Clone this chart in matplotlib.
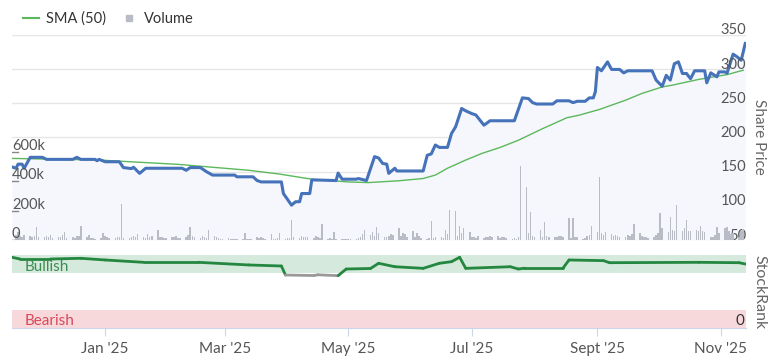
import matplotlib
matplotlib.use("Agg")
import matplotlib.pyplot as plt
import matplotlib.transforms as mtransforms
from matplotlib.lines import Line2D
import numpy as np
import pandas as pd

plt.rcParams['font.family'] = ['Lato', 'DejaVu Sans']

# share price
price_dates = [
    '2024-11-16', '2024-11-18', '2024-11-19', '2024-11-21', '2024-11-22', '2024-11-25',
    '2024-12-01', '2024-12-03', '2024-12-16', '2024-12-18', '2024-12-20', '2024-12-27',
    '2024-12-28', '2024-12-29', '2025-01-01', '2025-01-08', '2025-01-10', '2025-01-14',
    '2025-01-15', '2025-01-18', '2025-01-21', '2025-02-08', '2025-02-10', '2025-02-12',
    '2025-02-17', '2025-02-20', '2025-02-23', '2025-03-06', '2025-03-07', '2025-03-15',
    '2025-03-17', '2025-03-19', '2025-03-29', '2025-03-30', '2025-04-01', '2025-04-03',
    '2025-04-05', '2025-04-07', '2025-04-08', '2025-04-12', '2025-04-13', '2025-04-25',
    '2025-04-26', '2025-04-28', '2025-05-05', '2025-05-06', '2025-05-10', '2025-05-14',
    '2025-05-16', '2025-05-18', '2025-05-20', '2025-05-21', '2025-05-24', '2025-05-25',
    '2025-06-07', '2025-06-09', '2025-06-11', '2025-06-13', '2025-06-15', '2025-06-19',
    '2025-06-21', '2025-06-23', '2025-06-26', '2025-06-28', '2025-07-01', '2025-07-03',
    '2025-07-05', '2025-07-07', '2025-07-10', '2025-07-22', '2025-07-26', '2025-07-29',
    '2025-07-31', '2025-08-02', '2025-08-10', '2025-08-12', '2025-08-18', '2025-08-20',
    '2025-08-22', '2025-08-26', '2025-08-28', '2025-08-30', '2025-08-31', '2025-09-01',
    '2025-09-03', '2025-09-06', '2025-09-08', '2025-09-12', '2025-09-14', '2025-09-16',
    '2025-09-28', '2025-09-30', '2025-10-03', '2025-10-05', '2025-10-07', '2025-10-09',
    '2025-10-11', '2025-10-13', '2025-10-15', '2025-10-17', '2025-10-19', '2025-10-24',
    '2025-10-25', '2025-10-27', '2025-10-30', '2025-10-31', '2025-11-03', '2025-11-04',
    '2025-11-07', '2025-11-09', '2025-11-11', '2025-11-13',
]
price_vals = [
    157, 155, 161, 161, 155, 171,
    171, 168, 168, 171, 168, 168,
    166, 168, 164.5, 164.5, 156, 154.5,
    156.5, 147.5, 155, 155, 152, 156,
    156, 150, 145, 145, 142.5, 142.5,
    137, 135, 135, 118, 109.5, 101,
    106, 106, 118, 118, 138, 137,
    148, 139, 139, 140, 137, 172,
    170, 162, 161, 147.5, 155, 151,
    151, 174, 176, 189, 185.5, 185.5,
    206, 215.6, 242.5, 239, 235, 233,
    225.5, 218, 224.5, 224.5, 258, 257,
    251, 249, 249, 253.7, 253.7, 251,
    253, 253, 258, 258, 267, 302.5,
    297.6, 310.7, 299.6, 299.6, 294.6, 297.6,
    297.6, 284, 275, 291, 284, 308,
    310.7, 293.7, 293.7, 286, 297.6, 297.6,
    280, 294.6, 288.8, 296, 296, 294,
    322, 318, 313, 337.6,
]

# 50 day simple moving average
sma_dates = [
    '2024-11-16', '2024-12-29', '2025-02-06', '2025-03-13', '2025-03-28', '2025-04-13',
    '2025-05-01', '2025-05-11', '2025-05-26', '2025-06-07', '2025-06-13', '2025-06-19',
    '2025-06-28', '2025-07-06', '2025-07-15', '2025-07-24', '2025-08-05', '2025-08-17',
    '2025-08-23', '2025-09-02', '2025-09-15', '2025-09-23', '2025-10-03', '2025-10-08',
    '2025-10-21', '2025-11-04', '2025-11-12',
]
sma_vals = [
    169.4, 167, 160.7, 152, 146.5, 139,
    135, 134, 136.7, 140, 145, 155,
    167, 176.7, 185.5, 196, 213, 229,
    232.7, 241, 254.7, 264.5, 274, 276.6,
    285, 292, 298.5,
]

# daily volume (thousands), one per business day from vol_start
vol_start = '2024-11-18'
volumes_k = [
    35, 53, 29, 23, 35, 26, 21, 29, 87, 23,
    18, 29, 21, 35, 14, 23, 18, 33, 53, 14,
    21, 12, 29, 26, 96, 23, 35, 16, 12, 9,
    14, 50, 29, 18, 12, 14, 21, 23, 246, 12,
    14, 18, 29, 23, 41, 21, 14, 44, 23, 29,
    68, 18, 23, 12, 14, 21, 23, 29, 16, 12,
    18, 35, 87, 29, 21, 12, 26, 18, 14, 68,
    29, 18, 12, 9, 6, 12, 7, 6, 5, 9,
    6, 46, 5, 4, 7, 18, 14, 23, 12, 9,
    41, 7, 9, 12, 46, 9, 12, 14, 137, 23,
    14, 29, 18, 21, 23, 12, 26, 18, 14, 112,
    9, 12, 6, 53, 7, 5, 4, 6, 9, 5,
    7, 12, 23, 41, 68, 35, 53, 29, 87, 47,
    23, 18, 29, 39, 35, 80, 29, 47, 41, 23,
    62, 18, 46, 29, 12, 9, 14, 130, 12, 18,
    23, 14, 68, 41, 205, 199, 29, 96, 47, 80,
    53, 23, 18, 12, 29, 14, 23, 18, 26, 21,
    29, 14, 23, 18, 12, 9, 14, 6, 23, 507,
    365, 47, 193, 29, 21, 70, 23, 125, 29, 21,
    23, 18, 29, 26, 18, 153, 12, 153, 23, 18,
    6, 14, 29, 35, 98, 53, 429, 47, 35, 53,
    41, 26, 35, 29, 23, 18, 35, 29, 41, 108,
    47, 26, 23, 18, 14, 21, 35, 47, 187, 84,
    53, 160, 70, 59, 240, 59, 82, 137, 64, 59,
    70, 64, 98, 59, 53, 23, 18, 35, 91, 47,
    80, 91, 59, 41, 47, 23, 64, 76,
]

# StockRank
rank_dates = [
    '2024-11-16', '2024-11-20', '2024-12-05', '2024-12-20', '2025-01-01', '2025-01-20',
    '2025-02-16', '2025-03-13', '2025-03-29', '2025-03-31', '2025-04-14', '2025-04-16',
    '2025-04-26', '2025-04-30', '2025-05-12', '2025-05-16', '2025-05-24', '2025-06-07',
    '2025-06-15', '2025-06-21', '2025-06-25', '2025-06-28', '2025-07-20', '2025-07-24',
    '2025-07-27', '2025-08-15', '2025-08-18', '2025-09-04', '2025-09-07', '2025-10-21',
    '2025-11-10', '2025-11-13',
]
rank_vals = [
    96.9, 94.5, 94.5, 95.5, 93.2, 90,
    90, 86.4, 85, 72.7, 72, 73,
    71.8, 80.9, 81.6, 88.7, 84, 81.8,
    88.7, 90.9, 96.9, 81.8, 84, 80.9,
    82, 82, 93.2, 92.3, 89.5, 90,
    89.5, 87.7,
]

tick_dates = ['2025-01-01', '2025-03-01', '2025-05-01', '2025-07-01', '2025-09-01', '2025-11-01']
tick_labels = ["Jan '25", "Mar '25", "May '25", "Jul '25", "Sept '25", "Nov '25"]
price_ticks = [50, 100, 150, 200, 250, 300, 350]
vol_ticks = [0, 200000, 400000, 600000]
vol_tick_labels = ['0', '200k', '400k', '600k']

price_x = pd.to_datetime(price_dates)
sma_x = pd.to_datetime(sma_dates)
vol_x = pd.bdate_range(vol_start, periods=len(volumes_k))
volumes = np.array(volumes_k) * 1000
rank_x = pd.to_datetime(rank_dates)
rank_y = np.array(rank_vals)
xlim = (pd.Timestamp('2024-11-16'), pd.Timestamp('2025-11-13 09:00'))

W, H = 772, 357
fig = plt.figure(figsize=(W / 100, H / 100), dpi=100)

label_col = '#555555'
grid_col = '#e6e6e6'
blue = '#4572b9'
sma_col = '#5cb85c'
vol_col = '#b9bcc4'

# price panel
ax = fig.add_axes([12 / W, (H - 240) / H, 734 / W, 205 / H])
ax.fill_between(price_x, price_vals, 50, color='#f5f7fc', zorder=1, lw=0)
for v in price_ticks:
    ax.axhline(v, color=grid_col, lw=1, zorder=0)
ax.plot(sma_x, sma_vals, color=sma_col, lw=1.0, zorder=3)
ax.plot(price_x, price_vals, color=blue, lw=2.2, zorder=4, solid_joinstyle='round')
ax.set_ylim(50, 350)
ax.set_xlim(*xlim)
ax.set_xticks([])
ax.set_yticks([])
for s in ax.spines.values():
    s.set_visible(False)
ax.patch.set_alpha(0)

lift = mtransforms.offset_copy(ax.get_yaxis_transform(), fig=fig, x=0, y=-2.5, units='dots')
for v in price_ticks:
    ax.text(1.0, v, str(v), transform=lift, ha='right', va='bottom',
            fontsize=10.5, color=label_col, zorder=6)
fig.text(759 / W, 1 - 137 / H, 'Share Price', rotation=-90, ha='center', va='center',
         fontsize=11, color='#666666')

# volume on a twin axis
axv = ax.twinx()
axv.bar(vol_x, volumes, width=0.75, color=vol_col, zorder=2)
axv.set_ylim(0, 1400000)
axv.set_xlim(*xlim)
axv.set_yticks([])
for s in axv.spines.values():
    s.set_visible(False)
liftv = mtransforms.offset_copy(axv.get_yaxis_transform(), fig=fig, x=0, y=-1, units='dots')
for v, lab in zip(vol_ticks, vol_tick_labels):
    axv.text(0.0, v, lab, transform=liftv, ha='left', va='bottom',
             fontsize=10.5, color=label_col)
    axv.plot([0, 0.008], [v, v], transform=axv.get_yaxis_transform(), color='#888888', lw=1)

# StockRank panel
ax3 = fig.add_axes([12 / W, (H - 328.3) / H, 734 / W, 73.3 / H])
ax3.axhspan(75, 100, color='#d5e9dc', lw=0)
ax3.axhspan(0, 25, color='#f7d9dc', lw=0)
for i in range(len(rank_x) - 1):
    low = rank_y[i] < 75 and rank_y[i + 1] < 75
    ax3.plot(rank_x[i:i + 2], rank_y[i:i + 2], color='#999999' if low else '#23873f',
             lw=2.0, solid_capstyle='round')
ax3.set_ylim(0, 100)
ax3.set_xlim(*xlim)
ax3.set_yticks([])
for k in ['top', 'left', 'right']:
    ax3.spines[k].set_visible(False)
ax3.spines['bottom'].set_color('#ccd6eb')
ax3.set_xticks(pd.to_datetime(tick_dates))
ax3.set_xticklabels(tick_labels, fontsize=11, color=label_col)
ax3.tick_params(axis='x', length=6, color='#ccd6eb', pad=4)
ax3.text(13 / 734, 84, 'Bullish', transform=ax3.get_yaxis_transform(), fontsize=11,
         color='#3b8f4e', va='center', ha='left')
ax3.text(13 / 734, 10, 'Bearish', transform=ax3.get_yaxis_transform(), fontsize=11,
         color='#d9485a', va='center', ha='left')
ax3.text(0.998, 10, '0', transform=ax3.get_yaxis_transform(), fontsize=11,
         color='#333333', va='center', ha='right')
fig.text(759 / W, 1 - 292 / H, 'StockRank', rotation=-90, ha='center', va='center',
         fontsize=11.5, color='#666666')

# legend
handles = [Line2D([], [], color=sma_col, lw=1.5),
           Line2D([], [], marker='s', color=vol_col, ls='none', markersize=5)]
fig.legend(handles, ['SMA (50)', 'Volume'], loc='center left',
           bbox_to_anchor=(10 / W, 1 - 19 / H), ncol=2, frameon=False, fontsize=10.5,
           handlelength=1.1, handletextpad=0.5, columnspacing=1.0, labelcolor='#333333')

fig.savefig('out.png', dpi=100)
